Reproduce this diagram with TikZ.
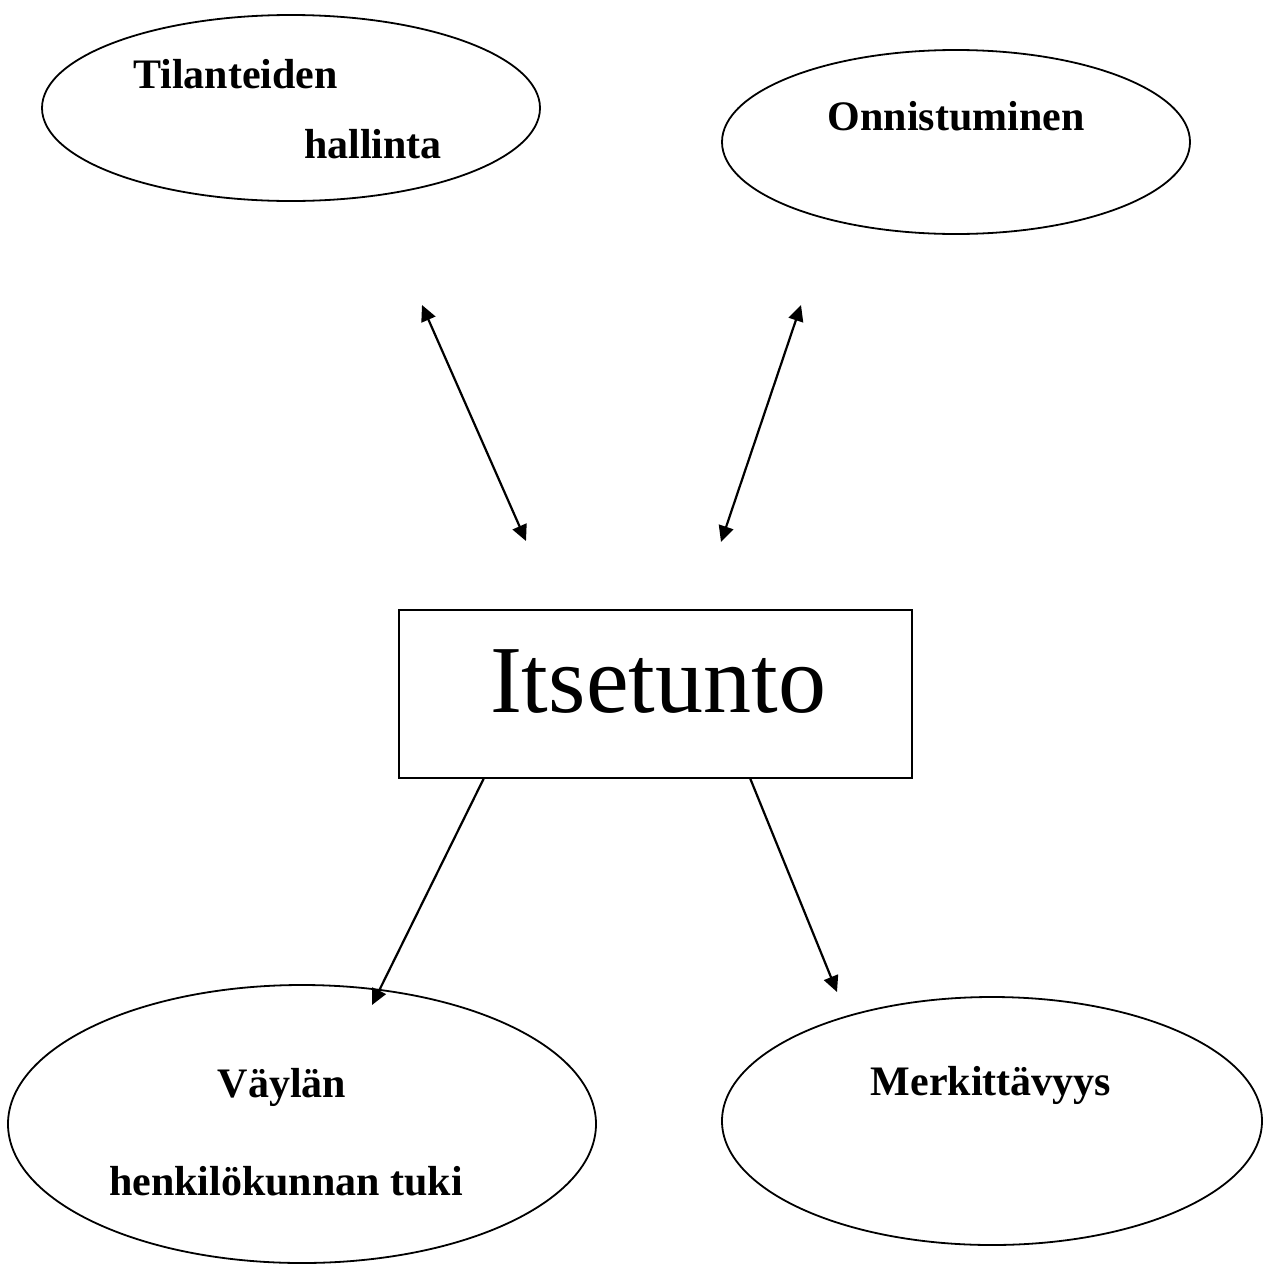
\documentclass[tikz,border=0pt]{standalone}
\usepackage{fontspec}
\setmainfont{Liberation Serif}
\usetikzlibrary{shapes.geometric,arrows.meta}
\begin{document}
\begin{tikzpicture}[x=1pt,y=-1pt,
  oval/.style={draw,ellipse,line width=1.8pt,inner sep=0pt},
  lbl/.style={font=\fontsize{42}{50}\selectfont\bfseries,inner sep=0pt},
  conn/.style={line width=2.2pt,-{Triangle[length=16pt,width=15pt]}},
  conn2/.style={line width=2.2pt,{Triangle[length=16pt,width=15pt]}-{Triangle[length=16pt,width=15pt]}}]
\path[use as bounding box,fill=white] (0,0) rectangle (1264,1264);
\begin{scope}
\clip (0,0) rectangle (1264,1264);
\node[oval,minimum width=498pt,minimum height=186pt] (e1) at (291,108) {};
\node[oval,minimum width=468pt,minimum height=184pt] (e2) at (956,142) {};
\node[oval,minimum width=588pt,minimum height=278pt] (e3) at (302,1124) {};
\node[oval,minimum width=540pt,minimum height=248pt] (e4) at (992,1121) {};
\end{scope}
\node[lbl,anchor=base west] (t1a) at (133,88) {Tilanteiden};
\node[lbl,anchor=base west] (t1b) at (304,158) {hallinta};
\node[lbl,anchor=base] (t2) at (956,130) {Onnistuminen};
\node[lbl,anchor=base] (t3a) at (282,1097) {Väylän};
\node[lbl,anchor=base] (t3b) at (286,1195) {henkilökunnan tuki};
\node[lbl,anchor=base] (t4) at (991,1095) {Merkittävyys};
\node[draw,line width=2pt,minimum width=513pt,minimum height=168pt,inner sep=0pt] (box) at (655.5,694) {};
\node[font=\fontsize{96}{110}\selectfont,anchor=base,inner sep=0pt] (main) at (658,712) {Itsetunto};
\coordinate (a1s) at (422,305);
\coordinate (a1e) at (526,541);
\coordinate (a2s) at (801,305);
\coordinate (a2e) at (721,542);
\coordinate (b1s) at (484,778);
\coordinate (b1e) at (372,1005);
\coordinate (b2s) at (750,778);
\coordinate (b2e) at (837,992);
\draw[conn2] (a1s) -- (a1e);
\draw[conn2] (a2s) -- (a2e);
\draw[conn] (b1s) -- (b1e);
\draw[conn] (b2s) -- (b2e);
\end{tikzpicture}
\end{document}
